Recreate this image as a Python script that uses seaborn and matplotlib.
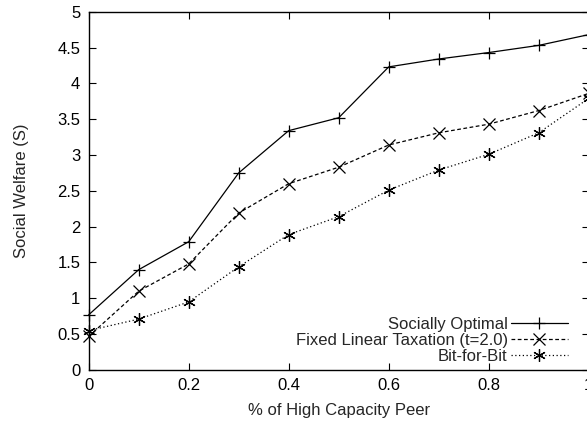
import numpy as np
import pandas as pd
import seaborn as sns
import matplotlib
matplotlib.use("Agg")
import matplotlib.pyplot as plt

# ── data ──
frac_high = [0.0, 0.1, 0.2, 0.3, 0.4, 0.5, 0.6, 0.7, 0.8, 0.9, 1.0]
socially_optimal = [0.77, 1.40, 1.79, 2.75, 3.34, 3.52, 4.23, 4.34, 4.43, 4.53, 4.68]
fixed_linear_tax = [0.47, 1.10, 1.48, 2.19, 2.60, 2.83, 3.14, 3.31, 3.43, 3.62, 3.86]
bit_for_bit = [0.55, 0.71, 0.95, 1.44, 1.89, 2.14, 2.51, 2.79, 3.01, 3.31, 3.79]

series_names = ["Socially Optimal", "Fixed Linear Taxation (t=2.0)", "Bit-for-Bit"]
x_ticks = [0, 0.2, 0.4, 0.6, 0.8, 1]
x_tick_labels = ["0", "0.2", "0.4", "0.6", "0.8", "1"]
y_ticks = [0, 0.5, 1, 1.5, 2, 2.5, 3, 3.5, 4, 4.5, 5]
y_tick_labels = ["0", "0.5", "1", "1.5", "2", "2.5", "3", "3.5", "4", "4.5", "5"]

df = pd.DataFrame({
    "x": frac_high * 3,
    "y": socially_optimal + fixed_linear_tax + bit_for_bit,
    "series": [n for n in series_names for _ in frac_high],
})

sns.set_style("ticks")
plt.rcParams["font.family"] = ["Liberation Sans", "DejaVu Sans"]

fig = plt.figure(figsize=(5.87, 4.24), dpi=100)
ax = fig.add_axes([0.1511, 0.1274, 0.8518, 0.845])

# gnuplot-like point types: +, x and a 6-armed asterisk
styles = {
    "Socially Optimal": dict(marker="+", linestyle="-"),
    "Fixed Linear Taxation (t=2.0)": dict(marker="x", linestyle=(0, (3, 2))),
    "Bit-for-Bit": dict(marker=(6, 2, 0), linestyle=(0, (1, 2))),
}
for name in series_names:
    sub = df[df.series == name]
    sns.lineplot(data=sub, x="x", y="y", ax=ax, color="black", linewidth=0.9,
                 markersize=9, markeredgewidth=0.9, markeredgecolor="black",
                 markerfacecolor="black", label=name, clip_on=False,
                 **styles[name])

ax.set_xlim(0, 1)
ax.set_ylim(0, 5)
ax.set_xticks(x_ticks, x_tick_labels)
ax.set_yticks(y_ticks, y_tick_labels)
ax.tick_params(direction="in", length=5, width=0.8, top=True, right=True,
               labelsize=12, colors="black", pad=6)
for s in ax.spines.values():
    s.set_linewidth(1.0)
    s.set_color("black")

ax.set_xlabel("% of High Capacity Peer", fontsize=12, labelpad=7)
ax.set_ylabel("Social Welfare (S)", fontsize=12, labelpad=20)

leg = ax.legend(loc="lower right", bbox_to_anchor=(0.958, 0.017),
                frameon=False, markerfirst=False, fontsize=12,
                handlelength=3.4, handletextpad=0.2, labelspacing=0.05,
                borderaxespad=0, borderpad=0)
for t in leg.get_texts():
    t.set_ha("right")

fig.savefig("out.png", dpi=100)
